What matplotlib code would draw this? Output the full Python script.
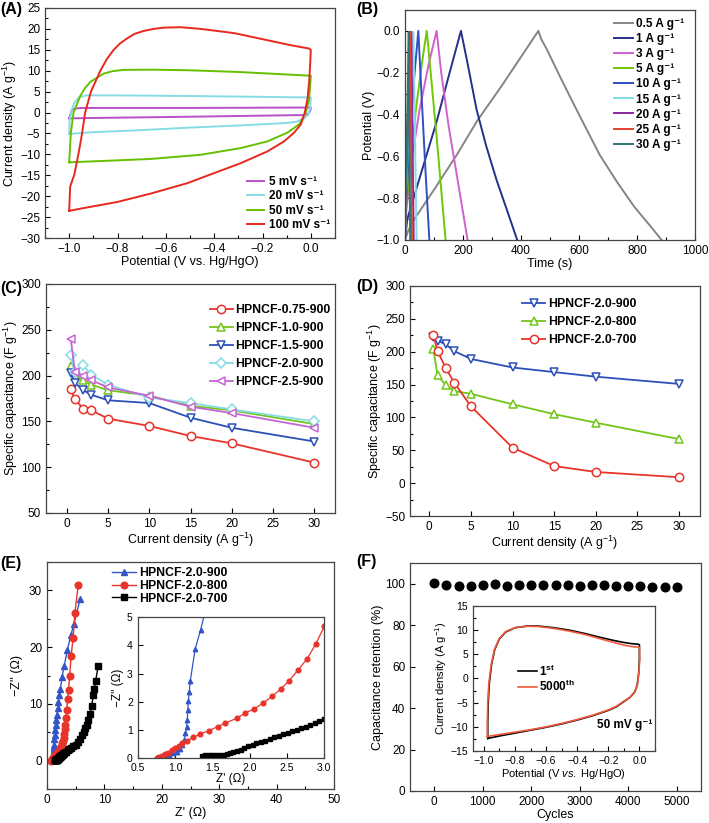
import numpy as np
import matplotlib
matplotlib.use('Agg')
import matplotlib.pyplot as plt
from matplotlib.ticker import MultipleLocator

plt.rcParams['font.family'] = ['Liberation Sans', 'DejaVu Sans']
plt.rcParams['mathtext.fontset'] = 'custom'
plt.rcParams['mathtext.rm'] = 'Liberation Sans'
plt.rcParams['mathtext.it'] = 'Liberation Sans:italic'
plt.rcParams['mathtext.bf'] = 'Liberation Sans:bold'

# ---------------- (A) CV curves at different scan rates ----------------
cv5_x = [-1.0, -0.995, -0.99, -0.98, -0.95, -0.5, 0.0, 0.0, -0.002, -0.01, -0.03, -0.5, -0.9, -1.0]
cv5_y = [-1.4, -0.5, 0.5, 0.9, 1.1, 1.1, 1.2, 1.2, 0.5, -0.3, -0.6, -1.0, -1.3, -1.4]
cv20_x = [-1.0, -0.998, -0.99, -0.98, -0.96, -0.93, -0.8, -0.5, -0.2, 0.0,
          0.0, -0.003, -0.01, -0.03, -0.06, -0.1, -0.3, -0.5, -0.7, -0.9, -1.0]
cv20_y = [-5.1, -2.0, 0.5, 2.2, 3.6, 4.1, 4.1, 3.95, 3.75, 3.6,
          3.6, 1.0, -0.5, -1.5, -2.2, -2.5, -3.1, -3.6, -4.2, -4.7, -5.1]
cv50_x = [-1.0, -0.993, -0.982, -0.954, -0.935, -0.913, -0.858, -0.82, -0.775, -0.65, -0.5, -0.3,
          -0.1, 0.0,
          0.0, -0.007, -0.021, -0.048, -0.097, -0.18, -0.29, -0.456, -0.664, -0.871, -1.0]
cv50_y = [-11.9, -4.8, 0.0, 4.0, 5.8, 7.3, 9.3, 9.9, 10.2, 10.25, 10.1, 9.7,
          9.1, 8.8,
          8.8, 3.2, 0.0, -2.8, -4.8, -6.9, -8.5, -10.1, -11.1, -11.6, -11.9]
cv100_x = [-1.0, -0.996, -0.979, -0.961, -0.947, -0.934, -0.91, -0.871, -0.845, -0.816, -0.79,
           -0.761, -0.73, -0.692, -0.65, -0.609, -0.539, -0.456, -0.318, -0.18, -0.083, -0.007, 0.0,
           -0.003, -0.007, -0.014, -0.025, -0.041, -0.069, -0.111, -0.18, -0.29, -0.401,
           -0.512, -0.664, -0.802, -0.927, -1.0]
cv100_y = [-23.5, -17.7, -14.9, -9.7, -5.1, 0.0, 5.0, 10.0, 12.7, 15.0, 16.5,
           17.7, 18.8, 19.5, 20.0, 20.3, 20.4, 20.0, 19.0, 17.3, 16.1, 15.3, 14.9,
           11.3, 7.3, 3.2, 0.0, -2.8, -4.8, -6.9, -9.3, -12.1, -14.5,
           -16.9, -19.4, -21.4, -22.7, -23.5]

# ---------------- (B) GCD curves ----------------
gcd_labels = ['0.5', '1', '3', '5', '10', '15', '20', '25', '30']
gcd_t = [
    [0, 10, 29, 100, 180, 249, 330, 400, 460, 470, 489, 534, 580, 627, 672, 730, 790, 850, 885],
    [0, 8, 23, 60, 110, 150, 193, 215, 247, 280, 316, 350, 387],
    [0, 5, 25, 50, 80, 109, 125, 150, 180, 216],
    [0, 4, 20, 40, 60, 75, 90, 110, 140],
    [0, 3, 15, 30, 46, 55, 70, 84],
    [0, 3, 15, 29, 34, 40],
    [0, 2, 12, 22, 26, 30],
    [0, 2, 10, 18, 21, 24],
    [0, 2, 8, 13, 15, 18],
]
gcd_v = [
    [-1.0, -0.96, -0.907, -0.76, -0.59, -0.43, -0.27, -0.125, 0.0, -0.04, -0.088, -0.217, -0.345, -0.473, -0.594, -0.72, -0.84, -0.94, -1.0],
    [-1.0, -0.9, -0.83, -0.66, -0.43, -0.22, 0.0, -0.15, -0.377, -0.55, -0.714, -0.85, -1.0],
    [-1.0, -0.85, -0.6, -0.38, -0.17, 0.0, -0.2, -0.45, -0.7, -1.0],
    [-1.0, -0.85, -0.6, -0.35, -0.14, 0.0, -0.22, -0.52, -1.0],
    [-1.0, -0.85, -0.55, -0.25, 0.0, -0.25, -0.65, -1.0],
    [-1.0, -0.8, -0.4, -0.005, -0.45, -1.0],
    [-1.0, -0.8, -0.4, -0.005, -0.5, -1.0],
    [-1.0, -0.8, -0.4, -0.005, -0.5, -1.0],
    [-1.0, -0.8, -0.4, -0.005, -0.5, -1.0],
]
gcd_colors = ['#858585', '#262F8A', '#D060D0', '#70C800', '#3050C0', '#80DDE8', '#8A2AA0', '#E84030', '#2A7878']

# ---------------- (C) rate capability, KOH ratio ----------------
cur = [0.5, 1, 2, 3, 5, 10, 15, 20, 30]
c075 = [185, 174, 164, 162, 153, 145, 134, 126, 105]
c10 = [210, 200, 195, 190, 184, 178, 167, 162, 147]
c15 = [203, 192, 184, 179, 173, 170, 154, 143, 128]
c20 = [222, 204, 211, 201, 190, 176, 170, 163, 150]
c25 = [240, 204, 200, 195, 187, 178, 166, 159, 143]

# ---------------- (D) rate capability, temperature ----------------
d900 = [222, 217, 211, 201, 189, 176, 169, 162, 151]
d800 = [204, 164, 149, 140, 136, 120, 105, 92, 67]
d700 = [225, 201, 175, 153, 117, 54, 26, 17, 9]

# ---------------- (E) Nyquist plots ----------------
e900_x = [0.755, 0.81, 0.86, 0.915, 0.97, 1.02, 1.067, 1.10, 1.125, 1.14, 1.155, 1.165, 1.17, 1.18,
          1.19, 1.205, 1.27, 1.344, 1.42, 1.5, 1.6, 1.72, 1.85, 2.0, 2.15, 2.35, 2.6, 3.0, 3.55,
          4.15, 4.7, 5.75]
e900_y = [0.05, 0.07, 0.09, 0.13, 0.18, 0.24, 0.32, 0.47, 0.65, 0.89, 1.12, 1.36, 1.71, 2.04,
          2.33, 2.75, 3.87, 4.55, 5.4, 6.2, 7.1, 8.0, 9.2, 10.3, 11.5, 12.7, 14.7, 16.7, 19.5,
          22.1, 24.1, 28.4]
e800_x = [0.76, 0.79, 0.82, 0.865, 0.91, 0.955, 1.0, 1.05, 1.09, 1.16, 1.245, 1.34, 1.455, 1.57,
          1.67, 1.83, 1.94, 2.06, 2.18, 2.30, 2.42, 2.53, 2.65, 2.77, 2.885, 3.0, 3.1, 3.2, 3.3,
          3.45, 3.6, 3.75, 3.95, 4.2, 4.55, 4.85, 5.45]
e800_y = [0.0, 0.04, 0.08, 0.14, 0.2, 0.29, 0.37, 0.44, 0.53, 0.62, 0.74, 0.86, 0.98, 1.12,
          1.24, 1.42, 1.6, 1.75, 1.95, 2.19, 2.46, 2.75, 3.13, 3.52, 4.04, 4.67, 5.5, 6.3, 7.5,
          9.0, 10.8, 12.5, 15.0, 18.5, 21.6, 26.0, 31.0]
e700_x = [1.36, 1.40, 1.45, 1.50, 1.55, 1.60, 1.65, 1.70, 1.74, 1.78, 1.83, 1.88, 1.93, 1.98,
          2.04, 2.09, 2.15, 2.21, 2.27, 2.33, 2.39, 2.45, 2.51, 2.57, 2.63, 2.69, 2.75, 2.81,
          2.87, 2.93, 3.0, 3.3, 3.6, 3.9, 4.2, 4.6, 5.0, 5.4, 5.75, 6.1, 6.4, 6.65, 6.9, 7.2,
          7.5, 7.78, 8.07, 8.25, 8.48, 8.9]
e700_y = [0.09, 0.10, 0.11, 0.11, 0.11, 0.12, 0.13, 0.15, 0.18, 0.21, 0.25, 0.31, 0.37, 0.42,
          0.47, 0.53, 0.58, 0.63, 0.68, 0.74, 0.79, 0.85, 0.9, 0.95, 1.0, 1.06, 1.12, 1.18,
          1.24, 1.31, 1.39, 1.6, 1.85, 2.1, 2.3, 2.5, 2.8, 3.3, 3.9, 4.5, 5.1, 5.7, 6.3, 7.1,
          8.3, 9.7, 11.5, 12.7, 14.1, 16.6]

# ---------------- (F) cycling stability ----------------
cycles = [0, 250, 500, 750, 1000, 1250, 1500, 1750, 2000, 2250, 2500, 2750, 3000, 3250,
          3500, 3750, 4000, 4250, 4500, 4750, 5000]
retention = [100.3, 99.5, 99.0, 98.8, 99.2, 99.7, 98.8, 99.3, 99.3, 99.3, 99.2, 99.2, 99.0,
             99.2, 99.2, 99.0, 98.7, 98.7, 98.5, 98.2, 98.5]
f1_x = [-0.975, -0.975, -0.972, -0.965, -0.95, -0.93, -0.9, -0.86, -0.8, -0.72, -0.65, -0.55,
        -0.45, -0.35, -0.25, -0.17, -0.1, -0.05, -0.01, 0.0,
        0.0, -0.005, -0.015, -0.03, -0.06, -0.1, -0.15, -0.2, -0.3, -0.4, -0.5, -0.6, -0.7,
        -0.8, -0.9, -0.96, -0.975]
f1_y = [-12.4, -9.0, -5.0, -1.0, 3.0, 6.0, 8.2, 9.6, 10.5, 10.85, 10.85, 10.5,
        10.0, 9.3, 8.5, 7.9, 7.45, 7.2, 7.1, 7.0,
        4.0, 1.0, -1.5, -2.8, -3.9, -4.8, -5.9, -6.6, -7.7, -8.6, -9.4, -10.1, -10.7,
        -11.3, -11.9, -12.3, -12.4]
f5000_x = [-0.978, -0.978, -0.975, -0.968, -0.952, -0.932, -0.9, -0.86, -0.8, -0.72, -0.65, -0.55,
           -0.45, -0.35, -0.25, -0.17, -0.1, -0.05, -0.01, 0.0,
           0.002, -0.004, -0.014, -0.03, -0.06, -0.1, -0.15, -0.2, -0.3, -0.4, -0.5, -0.6, -0.7,
           -0.8, -0.9, -0.96, -0.978]
f5000_y = [-12.0, -9.0, -5.0, -1.0, 3.0, 6.0, 8.3, 9.7, 10.5, 10.8, 10.75, 10.35,
           9.8, 9.1, 8.2, 7.5, 6.9, 6.6, 6.5, 6.5,
           4.0, 1.0, -1.5, -2.8, -3.9, -4.7, -5.8, -6.5, -7.6, -8.5, -9.3, -10.0, -10.6,
           -11.1, -11.6, -11.9, -12.0]

RED = '#E8342A'
GREEN = '#72C61A'
BLUE = '#2C4FB8'
CYAN = '#86DCE6'
MAG = '#C565D5'
SUP = '\u207b\u00b9'   # superscript -1 for legend text


def style(ax, fs=8.5):
    ax.tick_params(direction='in', which='both', top=False, right=False, labelsize=fs, width=0.8)
    ax.tick_params(which='major', length=3.5)
    ax.tick_params(which='minor', length=2)
    for s in ax.spines.values():
        s.set_linewidth(0.9)
        s.set_color('#444444')


fig = plt.figure(figsize=(7.09, 8.23), dpi=100)

# ---- A ----
axA = fig.add_axes([0.0635, 0.7108, 0.409, 0.2795])
axA.plot(cv5_x, cv5_y, color='#B84FC8', lw=1.4, label='5 mV s' + SUP)
axA.plot(cv20_x, cv20_y, color=CYAN, lw=1.4, label='20 mV s' + SUP)
axA.plot(cv50_x, cv50_y, color='#66C000', lw=1.4, label='50 mV s' + SUP)
axA.plot(cv100_x, cv100_y, color='#E8281E', lw=1.4, label='100 mV s' + SUP)
axA.set_xlim(-1.1, 0.1)
axA.set_ylim(-30, 25)
axA.xaxis.set_major_locator(MultipleLocator(0.2))
axA.xaxis.set_minor_locator(MultipleLocator(0.1))
axA.yaxis.set_major_locator(MultipleLocator(5))
axA.yaxis.set_minor_locator(MultipleLocator(2.5))
axA.set_xlabel('Potential (V vs. Hg/HgO)', fontsize=9, labelpad=1)
axA.set_ylabel('Current density (A g$^{-1}$)', fontsize=9, labelpad=1)
axA.legend(loc='upper left', bbox_to_anchor=(0.675, 0.295), frameon=False, borderpad=0,
           handlelength=1.5, handletextpad=0.35, labelspacing=0.2,
           prop={'weight': 'bold', 'size': 8.5})
style(axA)

# ---- B ----
axB = fig.add_axes([0.5712, 0.7084, 0.409, 0.2795])
for t, v, c, lab in zip(gcd_t, gcd_v, gcd_colors, gcd_labels):
    axB.plot(t, v, color=c, lw=1.4, label=lab + ' A g' + SUP)
axB.set_xlim(0, 1000)
axB.set_ylim(-1.0, 0.1)
axB.xaxis.set_major_locator(MultipleLocator(200))
axB.xaxis.set_minor_locator(MultipleLocator(100))
axB.yaxis.set_major_locator(MultipleLocator(0.2))
axB.yaxis.set_minor_locator(MultipleLocator(0.1))
axB.set_xlabel('Time (s)', fontsize=9, labelpad=1)
axB.set_ylabel('Potential (V)', fontsize=9, labelpad=1)
axB.legend(loc='upper left', bbox_to_anchor=(0.702, 0.99), frameon=False, borderpad=0,
           handlelength=1.6, handletextpad=0.25, labelspacing=0.26,
           prop={'weight': 'bold', 'size': 8.5})
style(axB)

# ---- C ----
axC = fig.add_axes([0.0649, 0.3767, 0.4076, 0.2783])
mk = dict(ms=6, mfc='white', mew=1.1, lw=1.3)
axC.plot(cur, c075, '-o', color=RED, label='HPNCF-0.75-900', **mk)
axC.plot(cur, c10, '-^', color=GREEN, label='HPNCF-1.0-900', **mk)
axC.plot(cur, c15, '-v', color=BLUE, label='HPNCF-1.5-900', **mk)
axC.plot(cur, c20, '-D', color=CYAN, label='HPNCF-2.0-900', ms=5.2, mfc='white', mew=1.1, lw=1.3)
axC.plot(cur, c25, '-<', color=MAG, label='HPNCF-2.5-900', **mk)
axC.set_xlim(-2.5, 32.5)
axC.set_ylim(50, 300)
axC.xaxis.set_major_locator(MultipleLocator(5))
axC.yaxis.set_major_locator(MultipleLocator(50))
axC.yaxis.set_minor_locator(MultipleLocator(25))
axC.set_xlabel('Current density (A g$^{-1}$)', fontsize=9, labelpad=1)
axC.set_ylabel('Specific capacitance (F g$^{-1}$)', fontsize=9, labelpad=1)
axC.legend(loc='upper left', bbox_to_anchor=(0.545, 0.94), frameon=False, borderpad=0,
           handlelength=1.9, handletextpad=0.2, labelspacing=0.5,
           prop={'weight': 'bold', 'size': 8.8})
style(axC)

# ---- D ----
axD = fig.add_axes([0.5783, 0.373, 0.409, 0.2795])
axD.plot(cur, d900, '-v', color=BLUE, label='HPNCF-2.0-900', **mk)
axD.plot(cur, d800, '-^', color=GREEN, label='HPNCF-2.0-800', **mk)
axD.plot(cur, d700, '-o', color=RED, label='HPNCF-2.0-700', **mk)
axD.set_xlim(-2.3, 32.5)
axD.set_ylim(-50, 300)
axD.xaxis.set_major_locator(MultipleLocator(5))
axD.yaxis.set_major_locator(MultipleLocator(50))
axD.yaxis.set_minor_locator(MultipleLocator(25))
axD.set_xlabel('Current density (A g$^{-1}$)', fontsize=9, labelpad=1)
axD.set_ylabel('Specific capacitance (F g$^{-1}$)', fontsize=9, labelpad=1)
axD.legend(loc='upper left', bbox_to_anchor=(0.366, 0.975), frameon=False, borderpad=0,
           handlelength=1.9, handletextpad=0.2, labelspacing=0.5,
           prop={'weight': 'bold', 'size': 8.8})
style(axD)

# ---- E ----
axE = fig.add_axes([0.0663, 0.0413, 0.4048, 0.2758])
EBLUE = '#3355C8'
axE.plot(e900_x, e900_y, '-^', color=EBLUE, ms=4.5, lw=1.0, label='HPNCF-2.0-900')
axE.plot(e800_x, e800_y, '-o', color=RED, ms=4.8, lw=1.0, label='HPNCF-2.0-800')
axE.plot(e700_x, e700_y, '-s', color='black', ms=4.2, lw=1.0, label='HPNCF-2.0-700')
axE.set_xlim(0, 50)
axE.set_ylim(-5, 35)
axE.xaxis.set_major_locator(MultipleLocator(10))
axE.xaxis.set_minor_locator(MultipleLocator(5))
axE.yaxis.set_major_locator(MultipleLocator(10))
axE.yaxis.set_minor_locator(MultipleLocator(5))
axE.set_xlabel("Z' (\u03a9)", fontsize=9, labelpad=1)
axE.set_ylabel("\u2212Z'' (\u03a9)", fontsize=9, labelpad=4)
axE.legend(loc='upper left', bbox_to_anchor=(0.205, 1.003), frameon=False, borderpad=0,
           handlelength=2.0, handletextpad=0.2, labelspacing=0.05,
           prop={'weight': 'bold', 'size': 8.8})
style(axE)

axEi = fig.add_axes([0.1942, 0.0786, 0.2632, 0.1717])
axEi.plot(e900_x, e900_y, '-^', color=EBLUE, ms=3.2, lw=0.9)
axEi.plot(e800_x, e800_y, '-o', color=RED, ms=3.4, lw=0.9)
axEi.plot(e700_x, e700_y, '-s', color='black', ms=3.0, lw=0.9)
axEi.set_xlim(0.5, 3.0)
axEi.set_ylim(0, 5)
axEi.xaxis.set_major_locator(MultipleLocator(0.5))
axEi.yaxis.set_major_locator(MultipleLocator(1))
axEi.set_xlabel("Z' (\u03a9)", fontsize=8.5, labelpad=0)
axEi.set_ylabel("\u2212Z'' (\u03a9)", fontsize=8.5, labelpad=2)
style(axEi, fs=7.5)

# ---- F ----
axF = fig.add_axes([0.5783, 0.0389, 0.4104, 0.277])
axF.plot(cycles, retention, 'o', color='black', ms=6.2)
axF.set_xlim(-500, 5500)
axF.set_ylim(0, 110)
axF.xaxis.set_major_locator(MultipleLocator(1000))
axF.yaxis.set_major_locator(MultipleLocator(20))
axF.set_xlabel('Cycles', fontsize=9, labelpad=1)
axF.set_ylabel('Capacitance retention (%)', fontsize=9, labelpad=1)
style(axF)

axFi = fig.add_axes([0.6671, 0.0875, 0.2567, 0.1762])
axFi.plot(f1_x, f1_y, color='black', lw=1.2, label='1$^{\\mathbf{st}}$')
axFi.plot(f5000_x, f5000_y, color='#F2583A', lw=1.2, label='5000$^{\\mathbf{th}}$')
axFi.set_xlim(-1.07, 0.1)
axFi.set_ylim(-15, 15)
axFi.xaxis.set_major_locator(MultipleLocator(0.2))
axFi.xaxis.set_minor_locator(MultipleLocator(0.1))
axFi.yaxis.set_major_locator(MultipleLocator(5))
axFi.yaxis.set_minor_locator(MultipleLocator(2.5))
axFi.set_xlabel('Potential (V $\\it{vs.}$ Hg/HgO)', fontsize=8, labelpad=1)
axFi.set_ylabel('Current density (A g$^{-1}$)', fontsize=8, labelpad=1)
axFi.legend(loc='upper left', bbox_to_anchor=(0.215, 0.645), frameon=False, borderpad=0,
            handlelength=1.6, handletextpad=0.2, labelspacing=0.05,
            prop={'weight': 'bold', 'size': 8.5})
axFi.text(0.985, 0.18, '50 mV g' + SUP, transform=axFi.transAxes, ha='right',
          va='center', fontsize=8.5, fontweight='bold')
style(axFi, fs=7.5)

# panel letters
for lab, x, y in [('(A)', 0.0, 0.998), ('(B)', 0.503, 0.998), ('(C)', 0.0, 0.658),
                  ('(D)', 0.503, 0.661), ('(E)', 0.0, 0.325), ('(F)', 0.503, 0.327)]:
    fig.text(x, y, lab, fontsize=11.5, fontweight='bold', ha='left', va='top')

fig.savefig('out.png', dpi=100)
